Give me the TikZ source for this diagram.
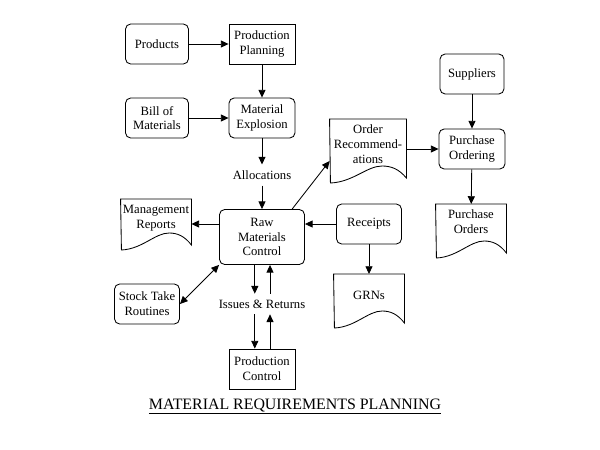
\documentclass[tikz,border=0pt]{standalone}
\usepackage{fontspec}
\setmainfont{Liberation Serif}
\usetikzlibrary{arrows.meta}
\newcommand{\docshape}[3]{\draw (#1.north west) -- (#1.north east) -- ++(0,#3-5)
  .. controls +(-0.1*#2,-9) and +(0.12*#2,0) .. ++(-0.32*#2,-12)
  .. controls +(-0.2*#2,0) and +(0.3*#2,-1) .. ++(-0.68*#2,17) -- cycle;}

\begin{document}
\begin{tikzpicture}[x=0.025cm,y=-0.025cm,line width=0.6pt,
    box/.style={draw,rounded corners=1.3mm,minimum height=10mm,align=center,inner sep=1pt,font=\fontsize{9}{10.5}\selectfont},
    sqbox/.style={box,sharp corners},
    doc/.style={anchor=north,minimum width=17.5mm,inner xsep=0pt,inner ysep=4pt,align=center,font=\fontsize{9}{10.5}\selectfont},
    lbl/.style={inner xsep=2pt,inner ysep=4pt,font=\fontsize{9}{10.5}\selectfont},
    arr/.style={-{Triangle[length=5.5pt,width=5pt]}}]
          \useasboundingbox (0,0) rectangle (600,449);
          \node[box,minimum width=15.75mm] (products) at (157,44) {Products};
          \node[sqbox,minimum width=16.5mm] (planning) at (262,44) {Production\\Planning};
          \node[box,minimum width=15.75mm] (bom) at (157,118) {Bill of\\Materials};
          \node[box,minimum width=16.5mm] (explosion) at (262,118) {Material\\Explosion};
          \node[lbl] (alloc) at (262,175) {Allocations};
          \node[box,minimum width=21.25mm,minimum height=13.75mm] (rawmat) at (262,237) {Raw\\Materials\\Control};
          \node[doc] (mgmt) at (156,199) {Management\\Reports};
          \node[box,minimum width=16.25mm] (stock) at (147,304) {Stock Take\\Routines};
          \node[lbl] (issues) at (262,304) {Issues \& Returns};
          \node[sqbox,minimum width=16.5mm] (prodctl) at (262,369) {Production\\Control};
          \node[doc,minimum width=19mm] (orders) at (368,119) {Order\\Recommend-\\ations};
          \node[box,minimum width=16.25mm] (receipts) at (369,224) {Receipts};
          \node[doc,inner ysep=12pt] (grn) at (369,274) {GRNs};
          \node[box,minimum width=16mm] (suppliers) at (472,74) {Suppliers};
          \node[box,minimum width=16.5mm] (purchord) at (472,149) {Purchase\\Ordering};
          \node[doc] (purchase) at (471,204) {Purchase\\Orders};
          \node[font=\fontsize{11.3}{13}\selectfont,anchor=base] (title) at (295,409) {\underline{MATERIAL REQUIREMENTS PLANNING}};
          \docshape{mgmt}{70}{51}
          \docshape{orders}{76}{64}
          \docshape{grn}{70}{54}
          \docshape{purchase}{70}{54}
          \coordinate (orin) at ([yshift=-10.5mm]orders.north west);
          \coordinate (dn) at ([xshift=-1.8mm]rawmat.south);
          \coordinate (up) at ([xshift=2mm]rawmat.south);
          \draw[arr] (products) -- (planning);
          \draw[arr] (planning) -- (explosion);
          \draw[arr] (bom) -- (explosion);
          \draw[arr] (explosion) -- (alloc);
          \draw[arr] (alloc) -- (rawmat);
          \draw[arr] (rawmat.west |- receipts) -- (mgmt.east |- receipts);
          \draw[arr] (receipts) -- (rawmat.east |- receipts);
          \draw[arr] ([xshift=-3.2mm]rawmat.north east) -- (orin);
          \draw[arr] (orders.east |- purchord) -- (purchord);
          \draw[arr] (suppliers) -- (purchord);
          \draw[arr] (purchord) -- (purchase);
          \draw[arr] (receipts) -- (grn);
          \draw[{Triangle[length=5.5pt,width=5pt]}-{Triangle[length=5.5pt,width=5pt]}] (stock.east) -- (rawmat.south west);
          \draw[arr] (dn) -- (dn |- issues.north);
          \draw[arr] (dn |- issues.south) -- (dn |- prodctl.north);
          \draw[arr] (up |- prodctl.north) -- (up |- issues.south);
          \draw[arr] (up |- issues.north) -- (up);
        \end{tikzpicture}
\end{document}
